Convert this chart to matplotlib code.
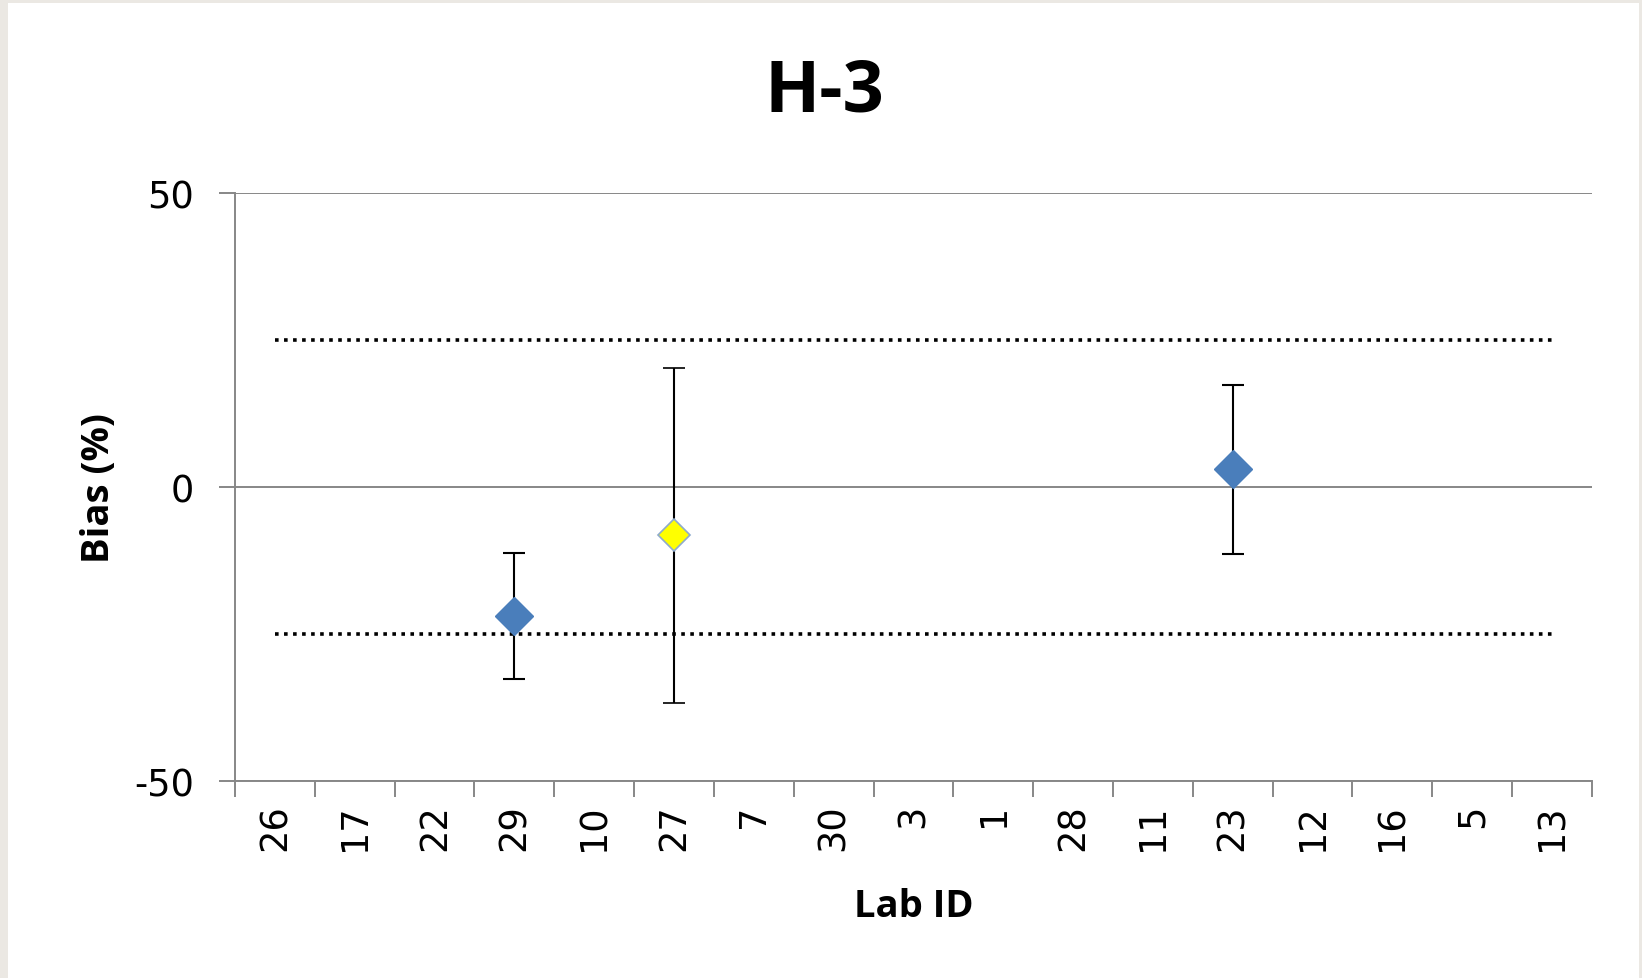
import numpy as np
import matplotlib
matplotlib.use('Agg')
import matplotlib.pyplot as plt
from matplotlib.patches import Rectangle

plt.rcParams['axes.unicode_minus'] = False

# lab IDs along the x axis (categories)
lab_ids = ['26', '17', '22', '29', '10', '27', '7', '30', '3', '1',
           '28', '11', '23', '12', '16', '5', '13']

# labs with a result: blue = accepted, yellow = flagged
blue_labs = ['29', '23']
blue_bias = [-21.9, 3.0]
blue_err = [10.7, 14.4]

yellow_labs = ['27']
yellow_bias = [-8.2]
yellow_err = [28.5]

limit = 25  # acceptance limits (+/- %)

fig = plt.figure(figsize=(16.42, 9.79), dpi=100, facecolor='#ebe8e3')
fig.patches.append(Rectangle((8 / 1642, 0), 1631 / 1642, 1 - 4 / 979,
                             transform=fig.transFigure, facecolor='white',
                             edgecolor='none', zorder=-10))
ax = fig.add_axes([0.1431, 0.2012, 0.8264, 0.6006])
ax.set_zorder(5)
ax.set_facecolor('none')

pos = {lab: i + 0.5 for i, lab in enumerate(lab_ids)}
xc = np.array([pos[l] for l in lab_ids])

# limit lines through the category centres
ax.plot(xc, [limit] * len(xc), color='black', lw=2.6,
        linestyle=(0, (1, 1.5)), zorder=2)
ax.plot(xc, [-limit] * len(xc), color='black', lw=2.6,
        linestyle=(0, (1, 1.5)), zorder=2)

ax.errorbar([pos[l] for l in blue_labs], blue_bias, yerr=blue_err,
            fmt='D', color='#4a7ebb', markersize=19, markeredgecolor='#4a7ebb',
            ecolor='black', elinewidth=1.5, capsize=8, capthick=1.5, zorder=3)
ax.errorbar([pos[l] for l in yellow_labs], yellow_bias, yerr=yellow_err,
            fmt='D', color='#ffff00', markersize=16, markeredgecolor='#8eaacc',
            markeredgewidth=1.2, ecolor='black', elinewidth=1.5, capsize=8,
            capthick=1.5, zorder=3)

ax.set_xlim(0, len(lab_ids))
ax.set_ylim(-50, 50)
ax.set_yticks([-50, 0, 50])
ax.yaxis.grid(True, color='#878787', lw=1.4)
ax.set_axisbelow(True)

ax.set_xticks(np.arange(len(lab_ids) + 1))
ax.set_xticklabels([])
ax.set_xticks(xc, minor=True)
ax.set_xticklabels(lab_ids, minor=True, rotation=90)

for side in ['top', 'right']:
    ax.spines[side].set_visible(False)
for side in ['left', 'bottom']:
    ax.spines[side].set_color('#878787')
    ax.spines[side].set_linewidth(1.4)

ax.tick_params(axis='both', which='major', direction='out', length=11.5,
               width=1.4, color='#878787')
ax.tick_params(axis='y', labelsize=26.5, pad=18)
ax.tick_params(axis='x', which='minor', length=0, labelsize=26.5, pad=16)

fig.text(824 / 1642, 1 - 92 / 979, 'H-3', fontsize=52, fontweight='bold',
         family='Open Sans', ha='center', va='center')
ax.set_ylabel('Bias (%)', fontsize=27.5, fontweight='bold', family='Open Sans')
ax.set_xlabel('Lab ID', fontsize=27.5, fontweight='bold', family='Open Sans')
ax.yaxis.set_label_coords(-0.086, 0.5)
ax.xaxis.set_label_coords(0.5, -0.18)

fig.savefig('out.png', dpi=100, facecolor=fig.get_facecolor())
